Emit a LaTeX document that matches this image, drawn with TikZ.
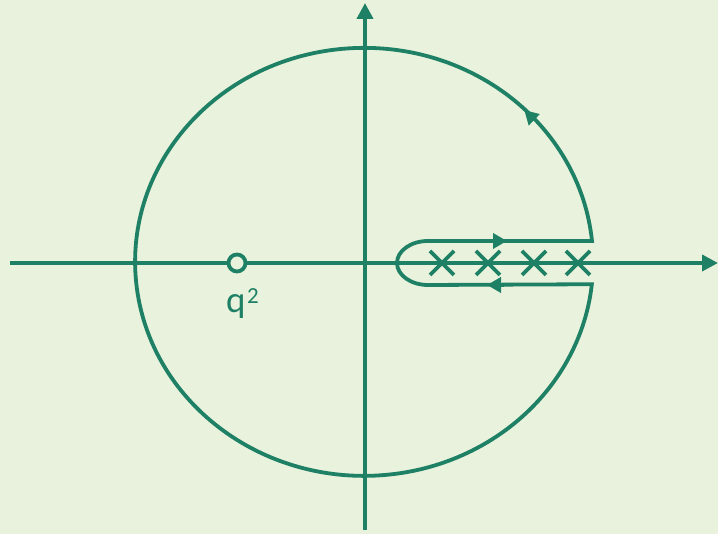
\documentclass[tikz,border=0pt]{standalone}
\usepackage{fontspec}
\setmainfont{Carlito}
\usetikzlibrary{arrows.meta,calc}
\definecolor{ink}{RGB}{30,128,100}
\definecolor{bg}{RGB}{233,242,220}
\begin{document}
\begin{tikzpicture}[x=1pt,y=1pt,
  line/.style={draw=ink,line width=3.8pt},
  axisarrow/.style={-{Triangle[length=16pt,width=16pt]}},
  midtip/.style={-{Triangle[length=14pt,width=15pt]},draw=ink,line width=3.8pt,fill=ink},
  crossmark/.style={draw=ink,line width=3.8pt}]
\fill[bg] (0,0) rectangle (718,534);
\useasboundingbox (0,0) rectangle (718,534);
% axes
\coordinate (xl) at (10,271);
\coordinate (xr) at (718,271);
\coordinate (yb) at (365,4);
\coordinate (yt) at (365,531);
\draw[line,axisarrow,ink] (xl) -- (xr);
\draw[line,axisarrow,ink] (yb) -- (yt);
% contour
\coordinate (up) at (592,293);
\coordinate (kl) at (428,293);
\draw[line] (up) arc[start angle=5.6,end angle=354,x radius=229,y radius=214]
  -- (428,249) arc[start angle=270,end angle=90,x radius=31,y radius=22] -- cycle;
% arrows on contour
\draw[midtip] (490,293) -- (507,293);
\draw[midtip] (504,249) -- (487,249);
\draw[midtip] ($(364,271)+(42.5:229 and 214)$) -- ($(364,271)+(45.6:229 and 214)$);
% crosses
\foreach \cx/\nm in {442/c1,488/c2,534/c3,578/c4}{
  \coordinate (\nm) at (\cx,271);
  \draw[crossmark] ($(\nm)+(-12,-12)$) -- ($(\nm)+(12,12)$);
  \draw[crossmark] ($(\nm)+(-12,12)$) -- ($(\nm)+(12,-12)$);
}
% pole
\node[circle,draw=ink,line width=3.8pt,fill=bg,minimum size=17pt,inner sep=0pt] (q) at (237,271) {};
\node[anchor=base west,inner sep=0pt,text=ink,font=\fontsize{37}{37}\selectfont] (ql) at (226,221) {q};
\node[anchor=base west,inner sep=0pt,text=ink,font=\fontsize{23}{23}\selectfont] (qs) at (247,230) {2};
\end{tikzpicture}
\end{document}
